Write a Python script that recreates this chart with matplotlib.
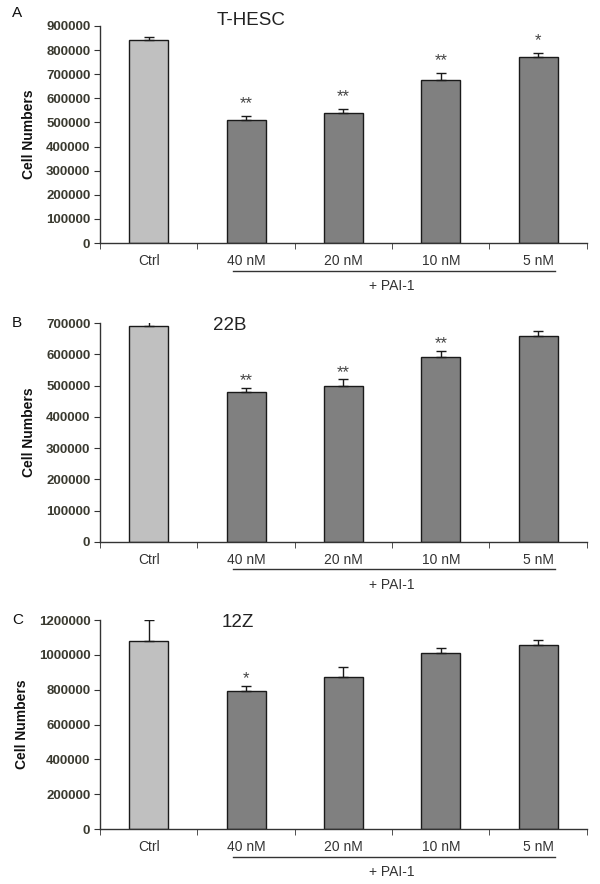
import matplotlib
matplotlib.use("Agg")
import matplotlib.pyplot as plt
from matplotlib import transforms

plt.rcParams['font.family'] = ['Liberation Sans', 'DejaVu Sans']

categories = ["Ctrl", "40 nM", "20 nM", "10 nM", "5 nM"]

thesc_vals = [840000, 512000, 540000, 677000, 770000]
thesc_err = [16000, 15000, 16000, 27000, 19000]
thesc_sig = ["", "**", "**", "**", "*"]

b22_vals = [692000, 480000, 500000, 591000, 658000]
b22_err = [15000, 13000, 20000, 20000, 16000]
b22_sig = ["", "**", "**", "**", ""]

z12_vals = [1080000, 794000, 874000, 1009000, 1055000]
z12_err = [122000, 27000, 54000, 32000, 28000]
z12_sig = ["", "*", "", "", ""]

panels = [
    ("A", "T-HESC", thesc_vals, thesc_err, thesc_sig, 900000, 100000),
    ("B", "22B", b22_vals, b22_err, b22_sig, 700000, 100000),
    ("C", "12Z", z12_vals, z12_err, z12_sig, 1200000, 200000),
]

# axes boxes in figure fraction (left, bottom, width, height)
boxes = [
    (0.1667, 0.7251, 0.8113, 0.2455),
    (0.1667, 0.3872, 0.8113, 0.2471),
    (0.1667, 0.0622, 0.8113, 0.2364),
]
sig_offsets = [9, 5, 5]
title_pos = [(0.31, 1.023), (0.267, 0.992), (0.283, 0.986)]
letter_y = [0.9853, 0.6343, 0.2986]

fig = plt.figure(figsize=(6, 8.84), dpi=100)
text_col = "#333333"

for i, (letter, title, vals, err, sig, ymax, step) in enumerate(panels):
    box = boxes[i]
    ax = fig.add_axes(box)
    x = list(range(len(categories)))
    colors = ["#c0c0c0"] + ["#808080"] * (len(categories) - 1)
    ax.bar(x, vals, width=0.4, color=colors, edgecolor="#1a1a1a", linewidth=1.0, zorder=2)
    ax.errorbar(x, vals, yerr=[[0] * len(err), err], fmt="none", ecolor="#1a1a1a",
                elinewidth=1.0, capsize=3.5, capthick=1.0, zorder=3)
    for xi, v, e, s in zip(x, vals, err, sig):
        if s:
            ax.annotate(s, (xi, v + e), xytext=(0, sig_offsets[i]), textcoords="offset points",
                        ha="center", va="center", fontsize=12, color="#444444")

    ax.set_xlim(-0.5, len(categories) - 0.5)
    ax.set_ylim(0, ymax)
    ax.set_yticks(range(0, ymax + 1, step))
    ax.set_yticklabels([str(t) for t in range(0, ymax + 1, step)], fontsize=9.5,
                       fontweight="bold", color="#3a3a30")
    ax.set_xticks(x)
    ax.set_xticklabels(categories, fontsize=10, color=text_col)
    ax.set_xticks([k - 0.5 for k in range(len(categories) + 1)], minor=True)
    ax.tick_params(axis="x", which="major", length=0, pad=8)
    ax.tick_params(axis="x", which="minor", length=4, direction="out", color="#333333")
    ax.tick_params(axis="y", length=4, direction="out", color="#333333", pad=3)
    for side in ("top", "right"):
        ax.spines[side].set_visible(False)
    for side in ("left", "bottom"):
        ax.spines[side].set_color("#333333")
        ax.spines[side].set_linewidth(1.0)

    ax.set_ylabel("Cell Numbers", fontsize=10, fontweight="bold", color="#111111", labelpad=7)
    tx, ty = title_pos[i]
    ax.text(tx, ty, title, transform=ax.transAxes, fontsize=13.5, color="#222222",
            ha="center", va="center")
    fig.text(0.02, letter_y[i], letter, fontsize=11, color="#111111",
             ha="left", va="center")

    # "+ PAI-1" bracket line under the treated groups
    trans = transforms.blended_transform_factory(ax.transData, ax.transAxes)
    line_tr = transforms.offset_copy(trans, fig=fig, x=0, y=-20, units="points")
    ax.plot([0.87, 4.17], [0, 0], color="#333333", lw=1.0, transform=line_tr, clip_on=False)
    txt_tr = transforms.offset_copy(trans, fig=fig, x=0, y=-31, units="points")
    ax.text(2.5, 0, "+ PAI-1", transform=txt_tr, ha="center", va="center",
            fontsize=10, color=text_col)

fig.savefig("out.png", dpi=100)
